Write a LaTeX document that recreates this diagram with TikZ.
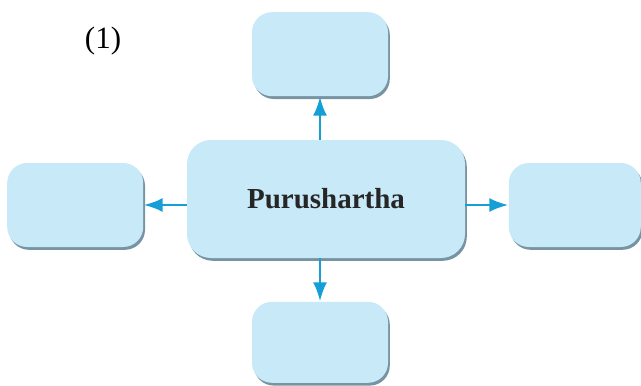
\documentclass[tikz,border=0pt]{standalone}
\usepackage{fontspec}
\setmainfont{Liberation Serif}
\usetikzlibrary{positioning, arrows.meta, shadows}

\definecolor{tilefill}{RGB}{200,234,248}
\definecolor{tileedge}{RGB}{118,148,162}
\definecolor{linkblue}{RGB}{22,158,214}

\begin{document}
\begin{tikzpicture}[
        x=0.5pt, y=-0.5pt,
        node distance=21.5pt,
        tile/.style={fill=tilefill, draw=none, rounded corners=10pt,
            minimum width=68pt, minimum height=42pt,
            general shadow={fill=tileedge, shadow xshift=0.9pt, shadow yshift=-1.4pt}},
        hub/.style={tile, rounded corners=12pt, minimum width=139pt, minimum height=59pt,
            font=\fontsize{14.5}{17}\selectfont\bfseries, text=black!85},
        link/.style={draw=linkblue, line width=1.4pt, -{Latex[length=9.5pt, width=7pt]}}
        ]
        \useasboundingbox (0,0) rectangle (641,385);
        % Nodes
        \node (label) at (103,41) {\fontsize{15.5}{18}\selectfont (1)};
        \node[hub] (main) at (326,199) {Purushartha};
        \node[tile] (top) [above=of main, xshift=-3pt] {};
        \node[tile, minimum height=40.5pt] (bottom) [below=of main, xshift=-3pt] {};
        \node[tile] (left) [left=of main, yshift=-3pt] {};
        \node[tile, minimum width=66pt] (right) [right=of main, yshift=-3pt] {};

        % Arrows
        \draw[link] (main.north -| top.south) -- (top.south);
        \draw[link] (main.south -| bottom.north) -- (bottom.north);
        \draw[link] (main.west |- left.east) -- (left.east);
        \draw[link] (main.east |- right.west) -- (right.west);
    \end{tikzpicture}
\end{document}
